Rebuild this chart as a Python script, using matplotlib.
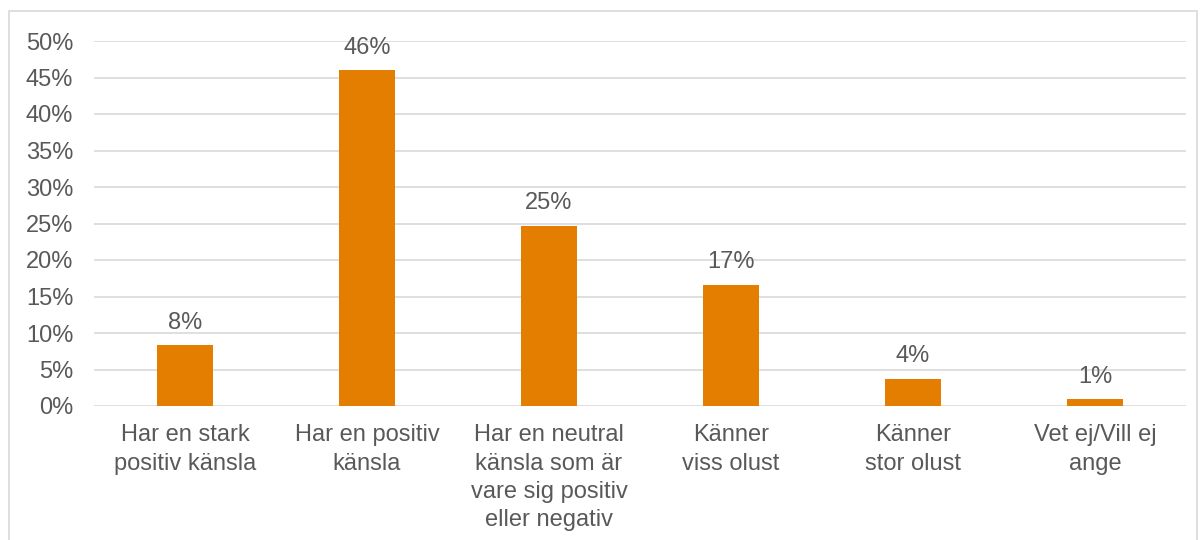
import matplotlib.pyplot as plt
from matplotlib.patches import Rectangle
from matplotlib.ticker import FuncFormatter

categories = ['Har en stark\npositiv känsla', 'Har en positiv\nkänsla',
              'Har en neutral\nkänsla som är\nvare sig positiv\neller negativ',
              'Känner\nviss olust', 'Känner\nstor olust', 'Vet ej/Vill ej\nange']
values = [8.3, 46.0, 24.7, 16.6, 3.7, 0.9]
labels = ['8%', '46%', '25%', '17%', '4%', '1%']

plt.rcParams['font.family'] = ['Liberation Sans', 'DejaVu Sans']
grey = '#595959'
fs = 17

fig = plt.figure(figsize=(12.02, 5.4), dpi=100)
ax = fig.add_axes([94 / 1202, 1 - 406 / 540, 1092 / 1202, 365 / 540])

x = range(len(categories))
ax.bar(x, values, width=0.31, color='#E47E00', zorder=3)
for i, v in enumerate(values):
    ax.text(i, v + 1.6, labels[i], ha='center', va='bottom', fontsize=fs, color=grey)

ax.set_xlim(-0.5, len(categories) - 0.5)
ax.set_ylim(0, 50)
ax.set_yticks(range(0, 51, 5))
ax.yaxis.set_major_formatter(FuncFormatter(lambda v, p: f'{int(v)}%'))
ax.set_xticks(list(x))
ax.set_xticklabels(categories, fontsize=fs, color=grey, linespacing=1.38)
ax.tick_params(axis='y', labelsize=fs, labelcolor=grey, length=0, pad=15)
ax.tick_params(axis='x', length=0, pad=13)
ax.grid(axis='y', color='#D9D9D9', linewidth=1.2, zorder=0)
for s in ax.spines.values():
    s.set_visible(False)

fig.patches.append(Rectangle((9 / 1202, -0.05), 1188 / 1202, 1 - 11 / 540 + 0.05,
                             transform=fig.transFigure, fill=False,
                             edgecolor='#D9D9D9', linewidth=1.2))

fig.savefig('out.png', dpi=100)
